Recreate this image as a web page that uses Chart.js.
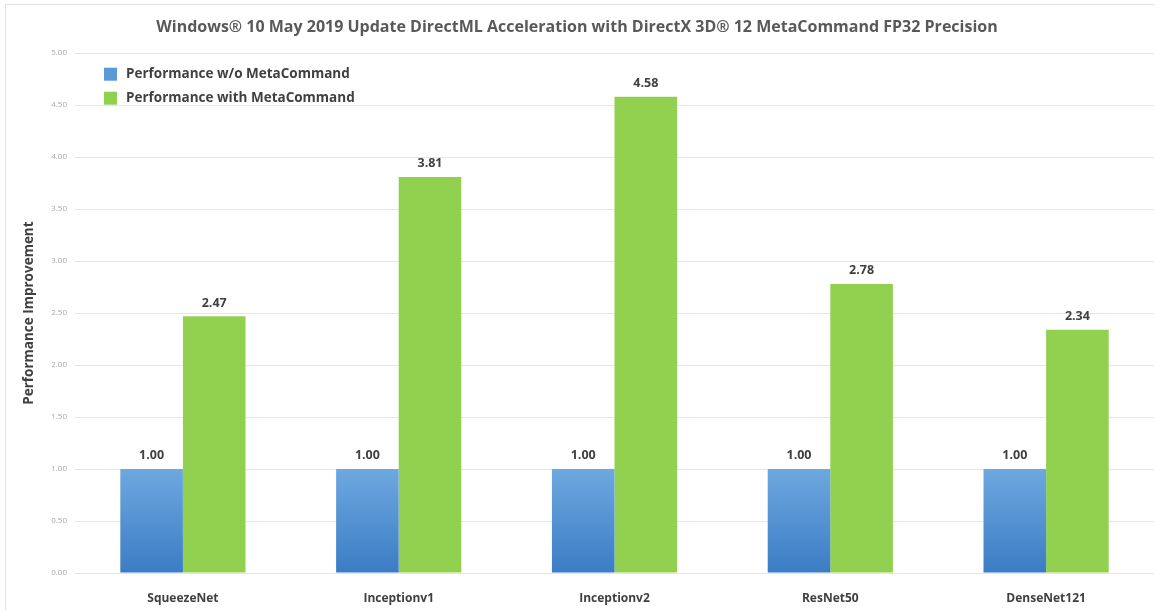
<!DOCTYPE html>
<html>
<head>
<meta charset="utf-8">
<script src="https://cdn.jsdelivr.net/npm/chart.js@4.4.0/dist/chart.umd.min.js"></script>
<style>
  body { margin: 0; background: #fff; }
  #wrap { position: relative; width: 1157px; height: 610px; }
  #frame { position: absolute; left: 5px; top: 4px; width: 1149px; height: 610px;
           border-left: 1px solid #e3e3e3; border-top: 1px solid #e3e3e3; pointer-events: none; }
</style>
</head>
<body>
<div id="wrap">
  <canvas id="myChart" width="1157" height="610"></canvas>
  <div id="frame"></div>
</div>
<script>
var titleText = "Windows\u00ae 10 May 2019 Update DirectML Acceleration with DirectX 3D\u00ae 12 MetaCommand FP32 Precision";
var models = ["SqueezeNet", "Inceptionv1", "Inceptionv2", "ResNet50", "DenseNet121"];
var withoutMeta = [1.00, 1.00, 1.00, 1.00, 1.00];
var withMeta = [2.47, 3.81, 4.58, 2.78, 2.34];
var yTicks = [0, 0.5, 1, 1.5, 2, 2.5, 3, 3.5, 4, 4.5, 5];

var textDark = "#404040";

// blue bars fade from light at the top to darker at the bottom
function blueFill(context) {
  var chart = context.chart;
  if (!chart.chartArea) return "#5b9bd5";
  var y = chart.scales.y;
  var g = chart.ctx.createLinearGradient(0, y.getPixelForValue(1), 0, y.getPixelForValue(0));
  g.addColorStop(0, "#6ea8df");
  g.addColorStop(1, "#3a7cc4");
  return g;
}

// legend drawn inside the plot, top left
var insideLegend = {
  id: "insideLegend",
  afterDraw: function(chart) {
    var ctx = chart.ctx;
    var x = chart.chartArea.left + 29;
    var y = chart.chartArea.top + 21;
    var swatch = ["#5b9bd5", "#92d050"];
    ctx.save();
    ctx.font = "bold 13.5px 'Open Sans', sans-serif";
    ctx.textBaseline = "middle";
    chart.data.datasets.forEach(function(ds, i) {
      var cy = y + i * 24;
      ctx.fillStyle = swatch[i];
      ctx.fillRect(x, cy - 6.5, 13, 13);
      ctx.fillStyle = textDark;
      ctx.fillText(ds.label, x + 22, cy);
    });
    ctx.restore();
  }
};

// value labels above each bar
var valueLabels = {
  id: "valueLabels",
  afterDatasetsDraw: function(chart) {
    var ctx = chart.ctx;
    ctx.save();
    ctx.font = "bold 12.5px 'Open Sans', sans-serif";
    ctx.fillStyle = textDark;
    ctx.textAlign = "center";
    ctx.textBaseline = "bottom";
    chart.data.datasets.forEach(function(ds, i) {
      chart.getDatasetMeta(i).data.forEach(function(bar, j) {
        ctx.fillText(ds.data[j].toFixed(2), bar.x, bar.y - 7);
      });
    });
    ctx.restore();
  }
};

var ctx = document.getElementById("myChart").getContext("2d");
var myChart = new Chart(ctx, {
  type: "bar",
  data: {
    labels: models,
    datasets: [{
      label: "Performance w/o MetaCommand",
      data: withoutMeta,
      backgroundColor: blueFill,
      categoryPercentage: 0.58,
      barPercentage: 1.0
    }, {
      label: "Performance with MetaCommand",
      data: withMeta,
      backgroundColor: "#92d050",
      categoryPercentage: 0.58,
      barPercentage: 1.0
    }]
  },
  options: {
    responsive: false,
    animation: false,
    layout: { padding: { left: 0, right: 3, top: 0, bottom: 0 } },
    plugins: {
      legend: { display: false },
      tooltip: { enabled: false },
      title: {
        display: true,
        text: titleText,
        color: "#595959",
        font: { family: "'Open Sans', sans-serif", size: 16, weight: "bold" },
        padding: { top: 18, bottom: 16 }
      }
    },
    scales: {
      x: {
        grid: { display: false },
        border: { display: false },
        ticks: {
          color: textDark,
          padding: 10,
          font: { family: "'Open Sans', sans-serif", size: 12, weight: "bold" }
        },
        afterFit: function(scale) { scale.height = 37; }
      },
      y: {
        min: 0,
        max: 5,
        afterBuildTicks: function(scale) {
          scale.ticks = yTicks.map(function(v) { return { value: v }; });
        },
        grid: { color: "#e6e6e6", drawTicks: false },
        border: { display: false },
        ticks: {
          color: "#a8a8a8",
          padding: 8,
          font: { family: "'Open Sans', sans-serif", size: 8 },
          callback: function(v) { return Number(v).toFixed(2); }
        },
        title: {
          display: true,
          text: "Performance Improvement",
          color: textDark,
          padding: { top: 21, bottom: 0 },
          font: { family: "'Open Sans', sans-serif", size: 13.5, weight: "bold" }
        },
        afterFit: function(scale) { scale.width = 75; }
      }
    }
  },
  plugins: [insideLegend, valueLabels]
});
</script>
</body>
</html>
